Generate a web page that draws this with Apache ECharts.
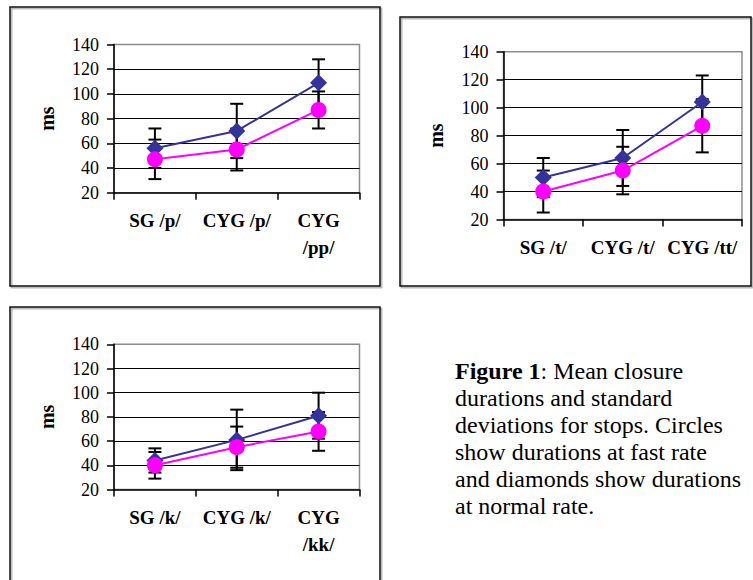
<!DOCTYPE html>
<html>
<head>
<meta charset="utf-8">
<script src="https://cdn.jsdelivr.net/npm/echarts@6/dist/echarts.min.js"></script>
<style>
html,body{margin:0;padding:0;background:#fff;}
#chart{width:753px;height:580px;}
</style>
</head>
<body>
<div id="chart"></div>
<script>
// ---- data ----
const categoriesP = ['SG /p/', 'CYG /p/', 'CYG /pp/'];
const normalP = [56, 70, 109];
const normalSdP = [16, 22, 19];
const fastP = [47, 55, 87];
const fastSdP = [16, 17, 15];

const categoriesT = ['SG /t/', 'CYG /t/', 'CYG /tt/'];
const normalT = [50, 64, 104];
const normalSdT = [14, 20, 19];
const fastT = [40, 55, 87];
const fastSdT = [15, 17, 19];

const categoriesK = ['SG /k/', 'CYG /k/', 'CYG /kk/'];
const normalK = [44, 61, 81];
const normalSdK = [10, 25, 19];
const fastK = [40, 55, 68];
const fastSdK = [11, 17, 16];

const yMin = 20, yMax = 140, yStep = 20;
const yName = 'ms';
const captionBold = 'Figure 1';
const captionRest = ': Mean closure\ndurations and standard\ndeviations for stops. Circles\nshow durations at fast rate\nand diamonds show durations\nat normal rate.';

// ---- chart ----
const FONT = '"Liberation Serif", "Times New Roman", serif';
const wrapLong = v => (v.length > 7 ? v.replace(' ', '\n') : v);
const panels = [
  {cats: categoriesP, n: normalP, ns: normalSdP, f: fastP, fs: fastSdP,
   grid: {left: 114, top: 44.5, width: 245.5, height: 148.2}, wrap: true, nameGap: 57},
  {cats: categoriesT, n: normalT, ns: normalSdT, f: fastT, fs: fastSdT,
   grid: {left: 503.5, top: 51.7, width: 238.5, height: 167.8}, wrap: false, nameGap: 58},
  {cats: categoriesK, n: normalK, ns: normalSdK, f: fastK, fs: fastSdK,
   grid: {left: 114, top: 344.3, width: 245.5, height: 145.2}, wrap: true, nameGap: 57}
];

function errRender(params, api) {
  const x = api.value(0), m = api.value(1), s = api.value(2);
  const t = api.coord([x, m + s]);
  const b = api.coord([x, m - s]);
  const hw = 6.5;
  const st = {stroke: '#000', lineWidth: 2};
  return {type: 'group', children: [
    {type: 'line', shape: {x1: t[0], y1: t[1], x2: b[0], y2: b[1]}, style: st},
    {type: 'line', shape: {x1: t[0] - hw, y1: t[1], x2: t[0] + hw, y2: t[1]}, style: st},
    {type: 'line', shape: {x1: b[0] - hw, y1: b[1], x2: b[0] + hw, y2: b[1]}, style: st}
  ]};
}

const grids = [], xAxes = [], yAxes = [], series = [];
panels.forEach((p, k) => {
  grids.push(Object.assign({show: true, borderColor: '#8c8c8c', borderWidth: 1.5, backgroundColor: 'transparent'}, p.grid));
  const xl = {interval: 0, fontSize: 19, fontWeight: 'bold', fontFamily: FONT, color: '#000', margin: 14, lineHeight: 27};
  if (p.wrap) { xl.formatter = wrapLong; }
  xAxes.push({type: 'category', gridIndex: k, data: p.cats,
    axisLine: {lineStyle: {color: '#000', width: 1.5}},
    axisTick: {show: true, length: 7, lineStyle: {color: '#000', width: 1.5}},
    axisLabel: xl});
  yAxes.push({type: 'value', gridIndex: k, min: yMin, max: yMax, interval: yStep,
    name: yName, nameLocation: 'middle', nameGap: p.nameGap,
    nameTextStyle: {fontSize: 20, fontWeight: 'bold', fontFamily: FONT, color: '#000'},
    axisLine: {show: true, lineStyle: {color: '#000', width: 1.5}},
    axisTick: {show: true, length: 7, lineStyle: {color: '#000', width: 1.5}},
    axisLabel: {fontSize: 18, fontFamily: FONT, color: '#000', margin: 15},
    splitLine: {show: true, showMinLine: false, showMaxLine: false, lineStyle: {color: '#000', width: 1}}});
  series.push({type: 'custom', xAxisIndex: k, yAxisIndex: k, z: 1, renderItem: errRender,
    encode: {x: 0, y: 1}, data: p.n.map((v, i) => [i, v, p.ns[i]])});
  series.push({type: 'custom', xAxisIndex: k, yAxisIndex: k, z: 1, renderItem: errRender,
    encode: {x: 0, y: 1}, data: p.f.map((v, i) => [i, v, p.fs[i]])});
  series.push({type: 'line', xAxisIndex: k, yAxisIndex: k, z: 2, data: p.n,
    symbol: 'diamond', symbolSize: 17, itemStyle: {color: '#333399'},
    lineStyle: {color: '#333399', width: 2}});
  series.push({type: 'line', xAxisIndex: k, yAxisIndex: k, z: 3, data: p.f,
    symbol: 'circle', symbolSize: 16, itemStyle: {color: '#ff00ff'},
    lineStyle: {color: '#ff00ff', width: 2}});
});

const frameStyle = {fill: 'none', stroke: '#111', lineWidth: 1.5, shadowColor: 'rgba(0,0,0,0.35)', shadowOffsetX: 1.5, shadowOffsetY: 1.5, shadowBlur: 1};
const graphic = [
  {type: 'rect', shape: {x: 10, y: 7, width: 370, height: 279}, style: frameStyle, silent: true},
  {type: 'rect', shape: {x: 400, y: 17, width: 351, height: 269}, style: frameStyle, silent: true},
  {type: 'rect', shape: {x: 10, y: 307, width: 370, height: 300}, style: frameStyle, silent: true},
  {type: 'text', x: 455, y: 357.5, silent: true,
   style: {text: '{b|' + captionBold + '}' + captionRest,
     fontSize: 24, fontFamily: FONT, fill: '#000', lineHeight: 27,
     rich: {b: {fontSize: 24, fontFamily: FONT, fontWeight: 'bold', lineHeight: 27, fill: '#000'}}}}
];

const chart = echarts.init(document.getElementById('chart'), null, {renderer: 'svg'});
chart.setOption({animation: false, backgroundColor: '#fff', grid: grids, xAxis: xAxes, yAxis: yAxes, series: series, graphic: graphic});
</script>
</body>
</html>
